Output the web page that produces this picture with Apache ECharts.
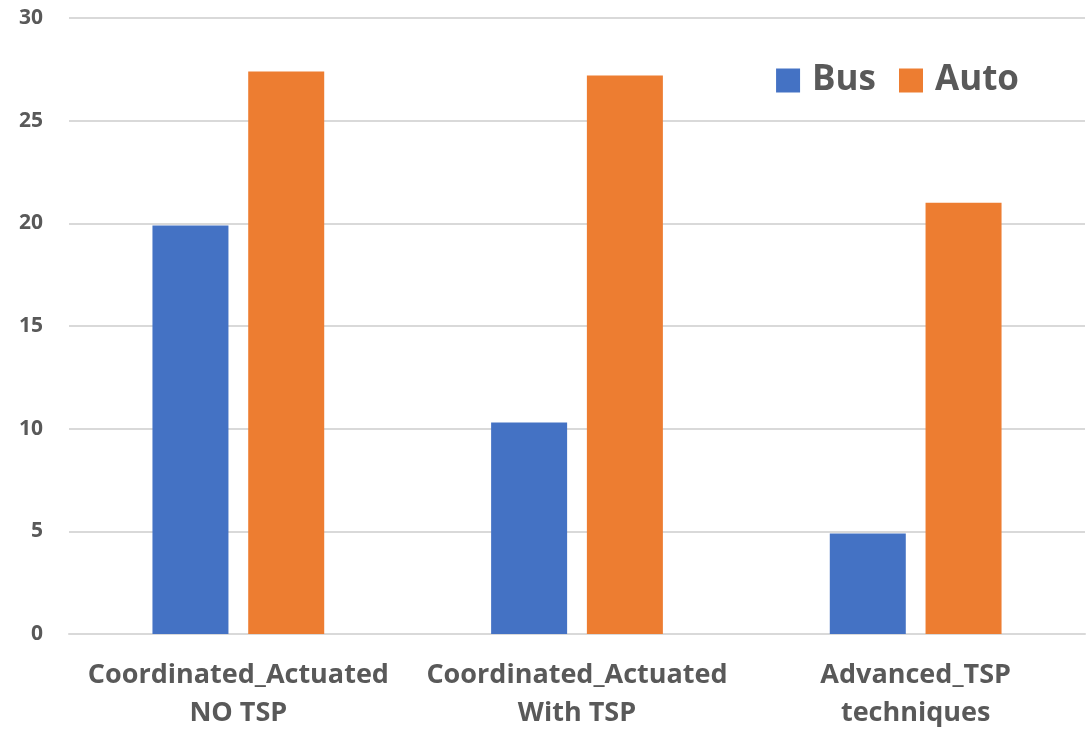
<!DOCTYPE html>
<html>
<head>
<meta charset="utf-8">
<script src="https://cdn.jsdelivr.net/npm/echarts@6/dist/echarts.min.js"></script>
<style>
  html, body { margin: 0; padding: 0; background: #fff; }
  #main { width: 1088px; height: 730px; }
</style>
</head>
<body>
<div id="main"></div>
<script>
// categories and values
const categories = ['Coordinated_Actuated\nNO TSP', 'Coordinated_Actuated\nWith TSP', 'Advanced_TSP\ntechniques']
const busValues = [19.9, 10.3, 4.9]
const autoValues = [27.4, 27.2, 21.0]

const font = "'Open Sans', 'Liberation Sans', sans-serif"
const chart = echarts.init(document.getElementById('main'))

const option = {
  animation: false,
  textStyle: { fontFamily: font },
  legend: {
    data: ['Bus', 'Auto'],
    top: 58,
    right: 64,
    icon: 'rect',
    itemWidth: 24,
    itemHeight: 24,
    itemGap: 23,
    textStyle: {
      fontSize: 35,
      fontWeight: 'bold',
      color: '#595959',
      fontFamily: font,
      padding: [0, 0, 0, 7]
    }
  },
  grid: { left: 69, right: 3, top: 18, bottom: 96, outerBoundsMode: 'none' },
  xAxis: {
    type: 'category',
    data: categories,
    axisLine: { lineStyle: { color: '#d9d9d9', width: 2 } },
    axisTick: { show: false },
    axisLabel: {
      interval: 0,
      margin: 22,
      fontSize: 27,
      fontWeight: 'bold',
      color: '#595959',
      lineHeight: 38,
      fontFamily: font
    }
  },
  yAxis: {
    type: 'value',
    min: 0,
    max: 30,
    interval: 5,
    axisLine: { show: false },
    axisTick: { show: false },
    splitLine: { lineStyle: { color: '#d9d9d9', width: 2 } },
    axisLabel: { margin: 26, fontSize: 21, fontWeight: 'bold', color: '#595959', fontFamily: font }
  },
  series: [
    {
      name: 'Bus',
      type: 'bar',
      data: busValues,
      barWidth: 76,
      barGap: '26%',
      itemStyle: { color: '#4472c4' }
    },
    {
      name: 'Auto',
      type: 'bar',
      data: autoValues,
      barWidth: 76,
      itemStyle: { color: '#ed7d31' }
    }
  ]
}
chart.setOption(option)
</script>
</body>
</html>
